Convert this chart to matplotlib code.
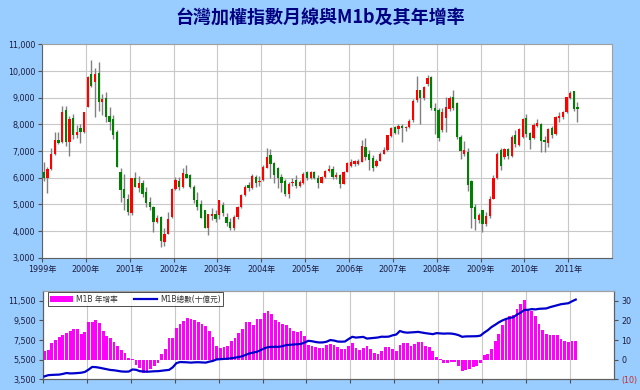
import matplotlib.pyplot as plt
from matplotlib.patches import Patch
from matplotlib.lines import Line2D

plt.rcParams['font.family'] = ['DejaVu Sans', 'Noto Sans CJK TC']

title = '台灣加權指數月線與M1b及其年增率'
years = list(range(1999, 2012))
year_labels = [f'{y}年' for y in years]

# monthly TAIEX candles, 1999-01 .. 2011-03
opens = [
    6225, 5975, 6320, 6880, 7420, 7330, 8530, 7330, 8250, 7620, 7880, 7700,
    8660, 9875, 9575, 9940, 8830, 8975, 8300, 8200, 7700, 6225, 5575, 5190,
    4690, 5975, 5600, 5810, 5475, 5100, 4910, 4350, 4540, 3600, 3910, 4540,
    5590, 5875, 5660, 6125, 6100, 5660, 5160, 5010, 4790, 4125, 4580, 4650,
    4600, 4975, 4537, 4350, 4100, 4537, 4912, 5350, 5725, 5600, 6037, 5850,
    5912, 6375, 6850, 6540, 6375, 6040, 5875, 5400, 5800, 5900, 5700, 5800,
    6200, 6000, 6208, 6006, 5818, 6012, 6242, 6312, 6033, 6119, 5764, 6203,
    6450, 6510, 6520, 6600, 7160, 6910, 6760, 6440, 6640, 6910, 7040, 7560,
    7890, 7840, 7940, 7860, 7900, 8150, 8900, 9290, 9000, 9500, 9790, 8620,
    8540, 7790, 8225, 8575, 9040, 8790, 7540, 6910, 6975, 5875, 4910, 4410,
    4790, 4250, 4550, 5210, 6000, 7050, 6790, 7062, 6812, 7600, 7225, 7537,
    8250, 7662, 7475, 7937, 8012, 7412, 7287, 7850, 7637, 8225, 8262, 8450,
    8975, 9250, 8662,
]
highs = [
    6600, 6420, 7100, 7720, 7720, 8700, 8700, 8330, 8410, 7980, 8000, 8480,
    9800, 10400, 10100, 10350, 9160, 9200, 8660, 8350, 7790, 6350, 6160, 5410,
    5980, 6200, 6060, 5900, 5660, 5290, 4950, 4600, 4560, 4100, 4725, 5600,
    6040, 6040, 6350, 6480, 6160, 5720, 5475, 5150, 4800, 4650, 4850, 4780,
    5180, 5100, 4680, 4500, 4600, 4950, 5400, 5720, 5850, 6150, 6100, 6050,
    6480, 7125, 7080, 6600, 6400, 6150, 5950, 5850, 6000, 6100, 5900, 6200,
    6250, 6250, 6270, 6100, 6050, 6300, 6475, 6440, 6200, 6150, 6250, 6600,
    6700, 6650, 6720, 7400, 7475, 7050, 6850, 6700, 6950, 7150, 7620, 7900,
    7960, 8020, 8000, 7950, 8200, 8950, 9810, 9300, 9450, 9850, 9800, 8800,
    8600, 8600, 9040, 9050, 9300, 8850, 7600, 7380, 7100, 5900, 5000, 4690,
    4800, 4700, 5300, 6100, 6950, 7100, 7100, 7100, 7600, 7780, 7850, 8250,
    8400, 7700, 8050, 8200, 8050, 7550, 7850, 7950, 8300, 8450, 8500, 9020,
    9250, 9260, 8825,
]
lows = [
    5880, 5430, 6280, 6850, 7250, 7300, 7180, 6830, 7450, 7480, 7290, 7690,
    8650, 9420, 8290, 8500, 8350, 8100, 7790, 7450, 6400, 5100, 4790, 4600,
    4600, 5650, 5475, 5290, 4920, 4790, 3975, 4300, 3410, 3450, 3880, 4500,
    5560, 5560, 5620, 5980, 5600, 5040, 4800, 4475, 4100, 3850, 4400, 4350,
    4450, 4550, 4200, 4040, 4050, 4450, 4850, 5300, 5500, 5580, 5650, 5700,
    5880, 6350, 6000, 5800, 5600, 5475, 5300, 5260, 5700, 5600, 5650, 5780,
    5900, 5950, 5970, 5630, 5800, 6000, 6200, 5950, 5950, 5600, 5750, 6200,
    6400, 6450, 6470, 6580, 6650, 6290, 6250, 6400, 6620, 6880, 7020, 7540,
    7650, 7650, 7350, 7750, 7880, 8100, 8850, 8010, 8900, 9450, 8550, 7660,
    7380, 7700, 7700, 8500, 8550, 7450, 6700, 6800, 5520, 4100, 4060, 4300,
    3975, 4200, 4500, 5200, 5950, 6300, 6700, 6700, 6780, 7150, 7200, 7500,
    7540, 7080, 7450, 7900, 6950, 6950, 7150, 7500, 7600, 8100, 8200, 8440,
    8950, 8500, 8075,
]
closes = [
    5975, 6320, 6880, 7420, 7300, 8470, 7330, 8200, 7600, 7720, 7720, 8450,
    9790, 9450, 9875, 8860, 8940, 8290, 8100, 7600, 6410, 5540, 5225, 4725,
    5975, 5660, 5810, 5380, 5040, 4910, 4350, 4500, 3630, 3910, 4450, 5575,
    5925, 5660, 6190, 6000, 5660, 5160, 4910, 4475, 4125, 4625, 4650, 4450,
    5162, 4662, 4290, 4100, 4537, 4912, 5350, 5662, 5600, 6075, 5787, 5890,
    6412, 6787, 6520, 6100, 6000, 5790, 5400, 5765, 5845, 5700, 5850, 6140,
    5994, 6208, 6006, 5818, 6012, 6242, 6312, 6033, 6119, 5764, 6203, 6548,
    6580, 6640, 6640, 7180, 6790, 6660, 6350, 6640, 6910, 7040, 7600, 7850,
    7690, 7940, 7880, 7900, 8145, 8880, 9290, 8980, 9410, 9750, 8600, 8510,
    7510, 8476, 8650, 8975, 8600, 7540, 7000, 7060, 5725, 4850, 4440, 4600,
    4250, 4557, 5210, 5992, 6890, 6432, 7080, 6812, 7537, 7250, 7825, 8200,
    7640, 7412, 7975, 8037, 7387, 7350, 7812, 7600, 8262, 8312, 8450, 9012,
    9162, 8575, 8575,
]

# M1B yoy growth (%) and M1B total (十億元), 1999-01 .. 2011-02
m1b_growth = [
    4.5, 5.0, 8.5, 10.2, 11.8, 12.8, 13.5, 14.4, 15.5, 15.5, 13.3, 14.2,
    19.3, 19.4, 20.3, 18.8, 14.8, 12.0, 10.8, 8.9, 7.2, 4.8, 3.4, 0.6,
    0.5, -2.6, -4.0, -6.8, -6.0, -4.5, -3.2, -1.8, 3.0, 5.4, 11.0, 11.0,
    16.1, 18.1, 19.8, 21.2, 20.7, 20.3, 19.2, 18.1, 17.0, 14.7, 11.4, 7.1,
    5.9, 6.3, 7.1, 9.3, 11.0, 13.6, 15.6, 19.0, 19.0, 17.5, 20.5, 20.5,
    24.0, 24.9, 23.4, 20.3, 19.2, 18.1, 17.5, 16.1, 14.7, 13.9, 14.4, 12.0,
    7.5, 7.0, 6.3, 6.0, 5.9, 7.6, 8.0, 7.6, 6.4, 5.4, 5.4, 6.8,
    8.5, 5.9, 4.7, 5.9, 7.1, 5.4, 3.4, 3.1, 4.6, 6.3, 6.3, 5.4,
    4.6, 7.6, 8.5, 8.5, 7.1, 8.0, 9.0, 9.0, 6.8, 6.3, 4.6, 1.2,
    0.2, -1.7, -1.7, -1.2, -1.2, -3.1, -5.6, -5.1, -4.7, -3.9, -3.1, -1.7,
    2.2, 3.1, 5.6, 9.7, 13.0, 17.5, 20.0, 22.0, 22.9, 25.8, 28.5, 30.5,
    25.4, 24.9, 22.0, 18.1, 14.9, 13.2, 12.7, 12.4, 12.4, 10.5, 9.3, 8.8,
    9.7, 9.7,
]
m1b_total = [
    3800, 3920, 3950, 3960, 3980, 4050, 4140, 4100, 4110, 4140, 4170, 4250,
    4480, 4760, 4740, 4680, 4600, 4520, 4450, 4420, 4360, 4300, 4280, 4290,
    4500, 4470, 4330, 4300, 4270, 4300, 4320, 4330, 4380, 4420, 4460, 4720,
    5150, 5260, 5250, 5230, 5200, 5230, 5240, 5220, 5200, 5300, 5380, 5530,
    5560, 5580, 5600, 5650, 5700, 5780, 5850, 6000, 6150, 6220, 6300, 6480,
    6650, 6780, 6800, 6820, 6810, 6880, 6990, 7020, 7050, 7080, 7100, 7250,
    7420, 7380, 7300, 7250, 7260, 7330, 7500, 7450, 7350, 7330, 7350, 7600,
    7830, 7750, 7780, 7820, 7650, 7680, 7720, 7760, 7840, 7830, 7850, 7980,
    8060, 8420, 8300, 8250, 8270, 8300, 8330, 8260, 8200, 8150, 8100, 8200,
    8180, 8150, 8170, 8160, 8100, 8000, 7830, 7870, 7880, 7900, 7890, 7950,
    8250, 8500, 8820, 9050, 9300, 9500, 9650, 9750, 9830, 10100, 10300, 10560,
    10580, 10650, 10620, 10680, 10700, 10720, 10850, 10950, 11050, 11150, 11200, 11250,
    11450, 11620,
]

label_col = '#1c1c3c'
grid_col = '#c8c8c8'

fig = plt.figure(figsize=(6.4, 3.9), dpi=100, facecolor='#99ccff')
fig.text(0.5, 0.955, title, ha='center', va='center', fontsize=13,
         fontweight='bold', color='#000080', family=['Noto Sans CJK TC', 'DejaVu Sans'])

# --- candlestick chart ---
ax = fig.add_axes([0.0656, 0.339, 0.891, 0.547])
ax.set_facecolor('white')
xs = [1999 + (i + 0.5) / 12 for i in range(len(closes))]
ax.vlines(xs, lows, highs, color='#808080', lw=1.0, zorder=2)
body_col = ['#ff0000' if c >= o else '#008000' for o, c in zip(opens, closes)]
body_h = [(c - o) if abs(c - o) > 30 else 30 for o, c in zip(opens, closes)]
ax.bar(xs, body_h, bottom=opens, width=0.052, color=body_col, lw=0, zorder=3)
ax.set_xlim(1999, 2012)
ax.set_ylim(3000, 11000)
yt = list(range(3000, 11001, 1000))
ax.set_yticks(yt)
ax.set_yticklabels([f'{v:,}' for v in yt])
ax.set_xticks(years)
ax.set_xticklabels(year_labels)
ax.grid(color=grid_col, lw=0.8)
ax.set_axisbelow(True)
ax.tick_params(length=3, width=0.8, color='#505050', labelsize=5.8,
               labelcolor=label_col, pad=2)
for s in ['left', 'bottom']:
    ax.spines[s].set_color('#606060')
for s in ['top', 'right']:
    ax.spines[s].set_color('#a0a0a0')

# --- M1B chart: bars on the base axes (right scale), line on the twin (left scale) ---
axb = fig.add_axes([0.0667, 0.0274, 0.893, 0.2266])
axb.set_facecolor('white')
axl = axb.twinx()

xm = [1999 + (i + 0.5) / 12 for i in range(len(m1b_growth))]
axb.bar(xm, m1b_growth, width=0.062, color='#ff00ff', lw=0, zorder=2)
axb.set_xlim(1999, 2012)
axb.set_ylim(-10, 35)
rt = [-10, 0, 10, 20, 30]
axb.set_yticks(rt)
axb.set_yticklabels(['(10)', '0', '10', '20', '30'])
axb.set_xticks(years)
axb.set_xticklabels([])
axb.grid(axis='x', color=grid_col, lw=0.8)
axb.set_axisbelow(True)

axl.plot(xm, m1b_total, color='#0000cc', lw=1.6, zorder=3)
axl.set_ylim(3500, 12500)
lt = list(range(3500, 11501, 2000))
axl.set_yticks(lt)
axl.set_yticklabels([f'{v:,}' for v in lt])

axb.yaxis.tick_right()
axb.yaxis.set_label_position('right')
axl.yaxis.tick_left()
axl.yaxis.set_label_position('left')
for a in (axb, axl):
    a.tick_params(length=3, width=0.8, color='#505050', labelsize=5.8,
                  labelcolor=label_col, pad=2)
    for s in ['left', 'bottom', 'right']:
        a.spines[s].set_color('#606060')
    a.spines['top'].set_color('#a0a0a0')
axb.get_yticklabels()[0].set_color('#c03030')

handles = [Patch(facecolor='#ff00ff', label='M1B 年增率'),
           Line2D([0], [0], color='#0000cc', lw=1.6, label='M1B總數(十億元)')]
leg = axl.legend(handles=handles, loc='upper left', bbox_to_anchor=(0.006, 1.0),
                 ncol=2, fontsize=5.5, frameon=True, fancybox=False,
                 edgecolor='#000000', borderpad=0.3, handlelength=3.0,
                 handleheight=0.7, columnspacing=2.2, handletextpad=0.4,
                 borderaxespad=0.2)
leg.get_frame().set_linewidth(0.6)
for t in leg.get_texts():
    t.set_color('#303030')

fig.savefig('out.png', dpi=100, facecolor=fig.get_facecolor())
